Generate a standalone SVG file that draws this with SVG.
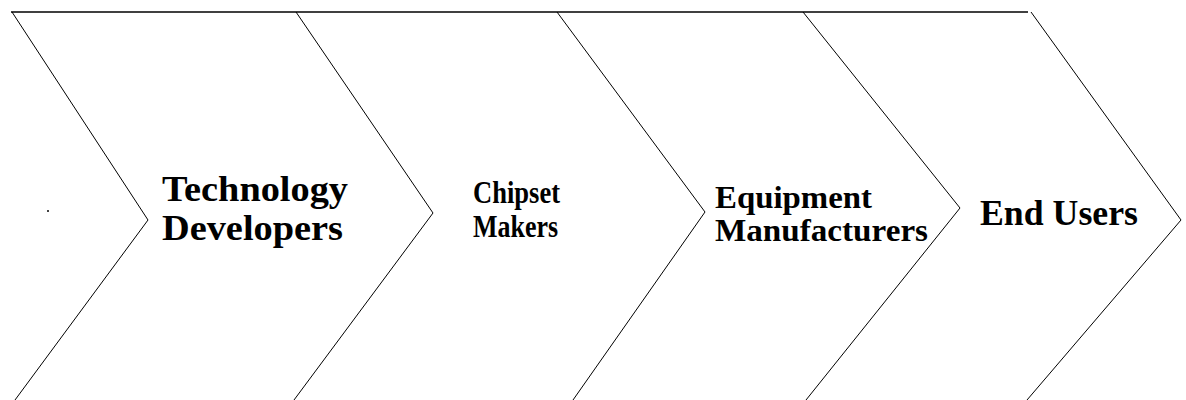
<svg xmlns="http://www.w3.org/2000/svg" width="1186" height="400" viewBox="0 0 1186 400">
<style>
.edge{fill:none;stroke:#000;stroke-width:1}
.top{fill:none;stroke:#000;stroke-width:1.6}
.lbl{font-family:"Liberation Serif","Times New Roman",serif;font-weight:bold;fill:#000}
</style>
<rect width="1186" height="400" fill="#fff"/>
<g id="connectors">
<line class="top" x1="11" y1="12" x2="1028" y2="12"/>
</g>
<g id="stage1">
<polyline class="edge" points="12,12 148,220 15,400"/>
<rect x="47" y="210" width="2" height="2" fill="#444"/>
</g>
<g id="stage2">
<polyline class="edge" points="296,12 433,213 294,400"/>
<text class="lbl" x="162" y="201" font-size="35" textLength="186" lengthAdjust="spacingAndGlyphs">Technology</text>
<text class="lbl" x="162" y="240" font-size="35" textLength="181" lengthAdjust="spacingAndGlyphs">Developers</text>
</g>
<g id="stage3">
<polyline class="edge" points="557,12 705,212 573,400"/>
<text class="lbl" x="473" y="203" font-size="32" textLength="87" lengthAdjust="spacingAndGlyphs">Chipset</text>
<text class="lbl" x="473" y="237" font-size="32" textLength="85" lengthAdjust="spacingAndGlyphs">Makers</text>
</g>
<g id="stage4">
<polyline class="edge" points="803,12 960,208 806,400"/>
<text class="lbl" x="715" y="208" font-size="32" textLength="157" lengthAdjust="spacingAndGlyphs">Equipment</text>
<text class="lbl" x="715" y="241" font-size="32" textLength="213" lengthAdjust="spacingAndGlyphs">Manufacturers</text>
</g>
<g id="stage5">
<polyline class="edge" points="1031,12 1181,220 1027,400"/>
<text class="lbl" x="980" y="225" font-size="35" textLength="158" lengthAdjust="spacingAndGlyphs">End Users</text>
</g>
</svg>
